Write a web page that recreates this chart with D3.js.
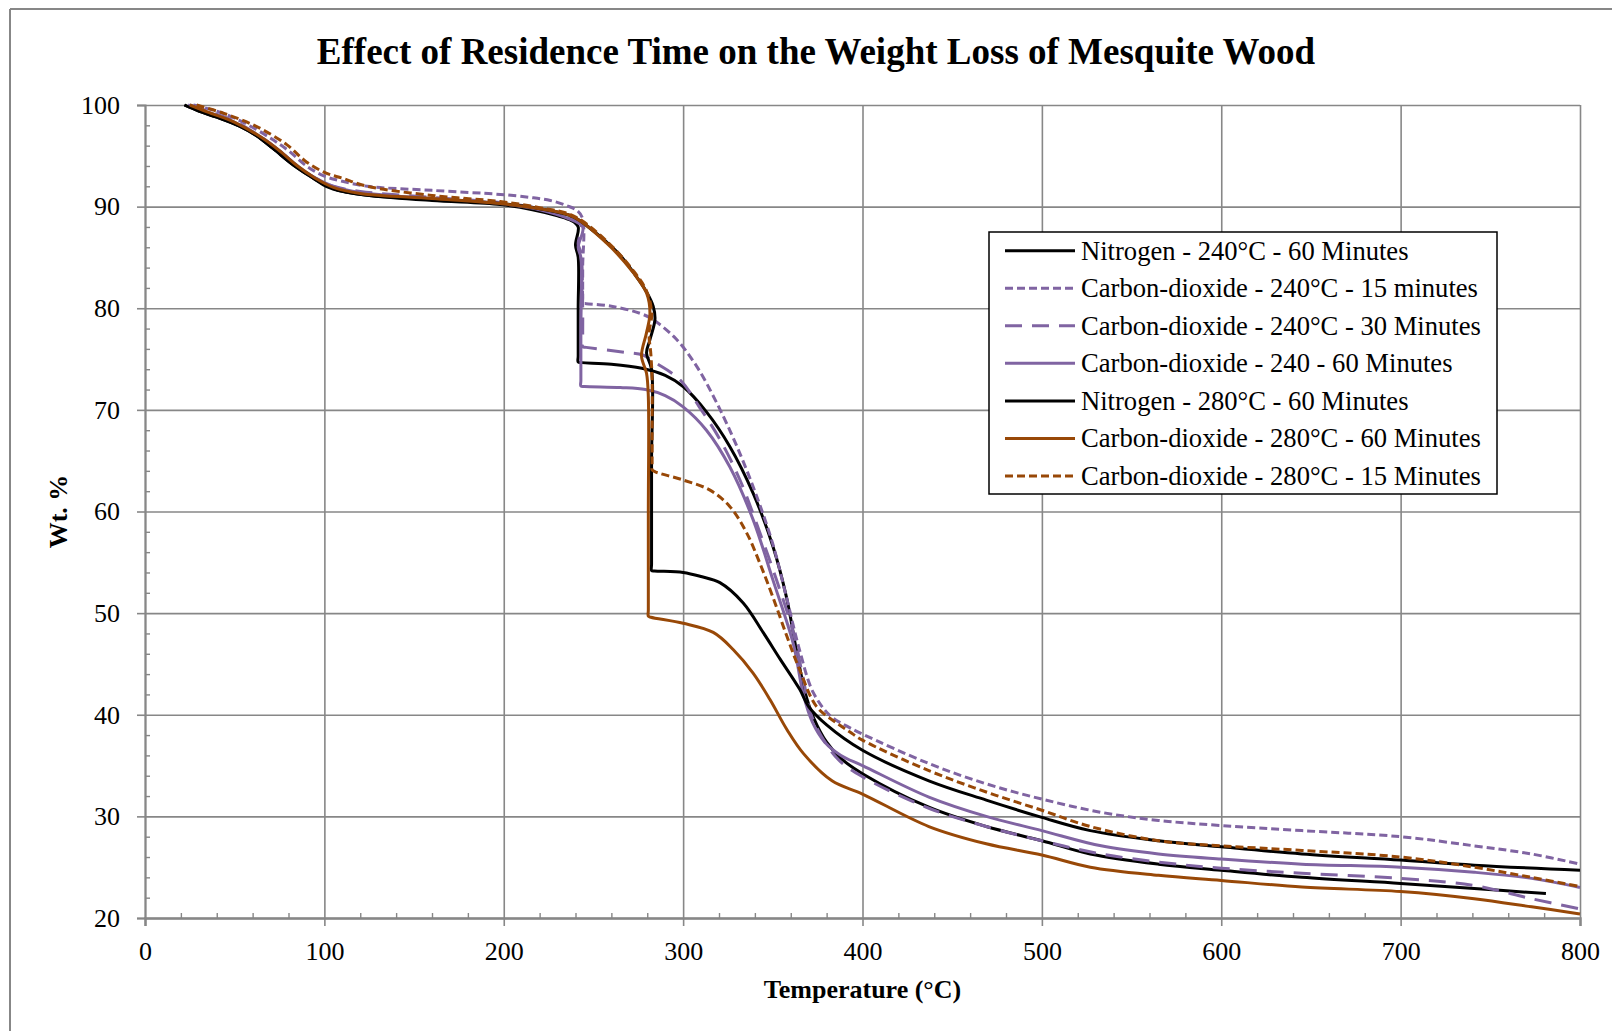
<!DOCTYPE html>
<html>
<head>
<meta charset="utf-8">
<script src="https://cdn.jsdelivr.net/npm/d3@7"></script>
<style>
  html, body { margin: 0; padding: 0; background: #fff; }
  svg { display: block; }
  text { font-family: "Liberation Serif", "Times New Roman", serif; fill: #000; }
</style>
</head>
<body>
<svg id="chart" width="1612" height="1031"></svg>
<script>
// Thermogravimetric curves: [temperature °C, weight %]
const n2_240_60 = [[22,100],[30,99.4],[40,98.8],[53,97.9],[62,97.0],[71.5,95.7],[82.7,94.1],[93.8,92.8],[101,92.1],[110,91.5],[125,91.1],[160,90.6],[198,90.2],[216,89.7],[230,89.1],[238,88.6],[241.5,88.0],[240,86.2],[241.5,85.0],[241.5,80.0],[241.5,75.3],[241.5,74.7],[243.5,74.65],[260,74.5],[277,74.1],[290,73.4],[300,72.3],[313,69.8],[326,66.4],[339,61.8],[350,56.6],[357.7,51.5],[363,46.5],[368,42.2],[373,39.6],[380,37.3],[388,35.7],[400,34.2],[437,30.9],[469,29.0],[500,27.6],[527,26.3],[565,25.3],[600,24.7],[645,24.0],[700,23.4],[741,22.9],[781,22.4]];

const co2_240_15 = [[27,100],[40,99.4],[50,98.7],[62,97.6],[72,96.5],[80,95.5],[90,94.0],[100,93.0],[110,92.5],[124,92.0],[160,91.6],[198,91.2],[215,90.9],[226,90.6],[235,90.1],[241,89.6],[244,88.8],[244,84.0],[244,81.0],[244,80.5],[246,80.45],[260,80.2],[276,79.5],[283,78.9],[296,77.0],[307.5,74.3],[318.7,70.7],[330,66.4],[341,61.5],[350,56.8],[357.7,51.5],[365,46.3],[372.5,42.2],[382,39.9],[391,38.9],[400,38.1],[437,35.2],[469,33.2],[500,31.7],[533,30.4],[565,29.6],[600,29.1],[645,28.6],[700,28.0],[741,27.1],[773,26.3],[800,25.3]];

const co2_240_30 = [[25,100],[35,99.4],[50,98.4],[65,96.8],[75,95.5],[85,94.0],[95,92.8],[105,92.0],[120,91.5],[160,90.9],[198,90.4],[220,89.8],[235,89.0],[243,88.3],[241.5,86.3],[243,85.5],[244,80.0],[244,76.7],[244,76.2],[246,76.15],[266,75.7],[277.6,75.4],[283,74.8],[298,73.0],[309,70.3],[320.5,67.1],[331.7,63.1],[342.8,57.9],[352,53.3],[361.4,48.1],[367,43.5],[371,40.2],[377,37.9],[387,35.5],[400,33.9],[437,30.8],[469,29.0],[500,27.6],[530,26.4],[565,25.5],[600,24.9],[645,24.4],[700,23.9],[741,23.2],[773,21.9],[800,20.9]];

const co2_240_60 = [[24,100],[35,99.3],[50,98.3],[65,96.8],[75,95.5],[85,94.0],[95,92.8],[105,92.0],[120,91.4],[160,90.8],[198,90.3],[220,89.7],[235,88.9],[244,88.0],[241.5,86.0],[243,85.0],[243,78.0],[243,72.9],[243,72.35],[245,72.3],[265,72.2],[279,72.0],[290,71.4],[300,70.3],[313,68.0],[326,64.4],[339,59.2],[350,53.3],[361.4,47.0],[367,42.0],[372,39.3],[379,37.3],[388,36.0],[400,35.0],[437,31.9],[469,30.0],[500,28.6],[533,27.1],[565,26.3],[600,25.8],[645,25.3],[700,25.0],[741,24.5],[773,23.9],[800,23.0]];

const n2_280_60 = [[22,100],[30,99.4],[40,98.8],[53,97.9],[62,97.0],[71.5,95.7],[82.7,94.1],[93.8,92.8],[101,92.0],[110,91.5],[125,91.1],[160,90.7],[198,90.3],[220,89.8],[238.8,89.0],[250,87.6],[257.4,86.5],[265,85.2],[272,83.6],[279.6,81.6],[283.3,80.2],[284.3,78.9],[281.5,76.9],[279.6,75.6],[282.4,74.0],[282.4,65.0],[282.4,54.8],[282.4,54.2],[284,54.15],[300,54.0],[310,53.6],[320.5,53.0],[333.5,51.0],[344.6,48.1],[354,45.5],[365,42.5],[370,40.8],[380,39.0],[400,36.5],[437,33.5],[469,31.6],[500,29.9],[527,28.6],[565,27.6],[600,27.0],[645,26.3],[700,25.7],[741,25.2],[800,24.7]];

const co2_280_60 = [[25,100],[35,99.3],[50,98.3],[65,96.8],[75,95.5],[85,94.0],[95,92.8],[105,91.9],[120,91.3],[160,90.8],[198,90.3],[220,89.8],[238.8,89.0],[257.4,86.4],[272.2,83.5],[279.6,81.5],[281.5,79.5],[279.6,77.6],[276.8,75.3],[279.6,73.6],[280.6,71.3],[280.6,60.0],[280.6,50.3],[280.6,49.7],[282,49.6],[300,49.0],[316.8,48.1],[328,46.4],[339,44.1],[348.4,41.5],[358,38.5],[367,36.2],[383,33.5],[400,32.2],[437,29.0],[469,27.3],[500,26.2],[527,25.0],[565,24.2],[600,23.7],[645,23.05],[700,22.6],[741,21.9],[773,21.1],[800,20.4]];

const co2_280_15 = [[28.8,100],[43.6,99.2],[62,97.9],[79,96.1],[90,94.4],[101,93.3],[110,92.8],[124,92.0],[160,91.1],[198,90.5],[220,89.9],[238.8,89.1],[257.4,86.6],[272.2,83.7],[279.6,81.7],[282.5,79.5],[281,77.5],[282,75.5],[282.7,73.0],[282.7,68.0],[282.7,64.6],[282.7,64.1],[284.5,63.9],[300,63.1],[315,62.1],[326,60.5],[335.4,57.9],[342.8,54.9],[350.2,51.5],[357.7,47.8],[365,44.4],[374.4,40.8],[385.5,39.2],[393,38.3],[400,37.5],[437,34.5],[469,32.4],[500,30.6],[527,29.0],[565,27.6],[600,27.1],[645,26.65],[700,26.0],[741,25.0],[773,24.0],[800,23.1]];

const seriesNames = [
  "Nitrogen - 240°C - 60 Minutes",
  "Carbon-dioxide - 240°C - 15 minutes",
  "Carbon-dioxide - 240°C - 30 Minutes",
  "Carbon-dioxide - 240 - 60 Minutes",
  "Nitrogen - 280°C - 60 Minutes",
  "Carbon-dioxide - 280°C - 60 Minutes",
  "Carbon-dioxide - 280°C - 15 Minutes"
];
const seriesData = [n2_240_60, co2_240_15, co2_240_30, co2_240_60, n2_280_60, co2_280_60, co2_280_15];

const xTicks = [0, 100, 200, 300, 400, 500, 600, 700, 800];
const yTicks = [20, 30, 40, 50, 60, 70, 80, 90, 100];

const titleText = "Effect of Residence Time on the Weight Loss of Mesquite Wood";
const xTitle = "Temperature (°C)";
const yTitle = "Wt. %";

// line styles per series
const PURPLE = "#8064a2", BROWN = "#984807";
const styles = [
  { color: "#000", dash: null },
  { color: PURPLE, dash: "8,4" },
  { color: PURPLE, dash: "17,10" },
  { color: PURPLE, dash: null },
  { color: "#000", dash: null },
  { color: BROWN, dash: null },
  { color: BROWN, dash: "8,4" }
];

const svg = d3.select("#chart");
const L = 145, R = 1580, T = 105, B = 918;
const x = d3.scaleLinear().domain([0, 800]).range([L, R]);
const y = d3.scaleLinear().domain([20, 100]).range([B, T]);
const GRID = "#878787";

// outer chart frame (left and top edges visible)
svg.append("line").attr("x1", 10).attr("x2", 10).attr("y1", 9).attr("y2", 1031)
  .attr("stroke", GRID).attr("stroke-width", 2);
svg.append("line").attr("x1", 10).attr("x2", 1612).attr("y1", 9).attr("y2", 9)
  .attr("stroke", GRID).attr("stroke-width", 2);

// gridlines
const gx = svg.append("g").attr("transform", `translate(0,${B})`)
  .call(d3.axisBottom(x).tickValues(xTicks).tickSize(-(B - T)).tickFormat(""));
gx.select(".domain").remove();
gx.selectAll("line").attr("stroke", GRID).attr("stroke-width", 1.6);
const gy = svg.append("g").attr("transform", `translate(${L},0)`)
  .call(d3.axisLeft(y).tickValues(yTicks).tickSize(-(R - L)).tickFormat(""));
gy.select(".domain").remove();
gy.selectAll("line").attr("stroke", GRID).attr("stroke-width", 1.6);

// minor ticks (inside)
const xMinor = d3.range(0, 801, 20).filter(v => v % 100 !== 0);
const yMinor = d3.range(20, 101, 2).filter(v => v % 10 !== 0);
const mx = svg.append("g").attr("transform", `translate(0,${B})`)
  .call(d3.axisBottom(x).tickValues(xMinor).tickSize(-5).tickFormat(""));
mx.select(".domain").remove();
mx.selectAll("line").attr("stroke", GRID).attr("stroke-width", 1.4);
const my = svg.append("g").attr("transform", `translate(${L},0)`)
  .call(d3.axisLeft(y).tickValues(yMinor).tickSize(-5).tickFormat(""));
my.select(".domain").remove();
my.selectAll("line").attr("stroke", GRID).attr("stroke-width", 1.4);

// series
const line = d3.line()
  .x(d => x(d[0])).y(d => y(d[1]))
  .curve(d3.curveCatmullRom.alpha(0.5));
const plot = svg.append("g");
seriesData.forEach((data, i) => {
  plot.append("path")
    .datum(data)
    .attr("d", line)
    .attr("fill", "none")
    .attr("stroke", styles[i].color)
    .attr("stroke-width", 3)
    .attr("stroke-linejoin", "round")
    .attr("stroke-dasharray", styles[i].dash);
});

// major axes with outside ticks and labels
const ax = svg.append("g").attr("transform", `translate(0,${B})`)
  .call(d3.axisBottom(x).tickValues(xTicks).tickSize(8).tickPadding(16));
ax.select(".domain").attr("stroke", GRID).attr("stroke-width", 2.4);
ax.selectAll("line").attr("stroke", GRID).attr("stroke-width", 1.6);
ax.selectAll("text").attr("font-size", 26).attr("font-family", "Liberation Serif").attr("fill", "#000");

const ay = svg.append("g").attr("transform", `translate(${L},0)`)
  .call(d3.axisLeft(y).tickValues(yTicks).tickSize(8).tickPadding(17));
ay.select(".domain").attr("stroke", GRID).attr("stroke-width", 2);
ay.selectAll("line").attr("stroke", GRID).attr("stroke-width", 1.6);
ay.selectAll("text").attr("font-size", 26).attr("font-family", "Liberation Serif").attr("fill", "#000");

// titles
svg.append("text").attr("x", 816).attr("y", 64).attr("text-anchor", "middle")
  .attr("font-size", 37).attr("font-weight", "bold").text(titleText);
svg.append("text").attr("x", (L + R) / 2).attr("y", 998).attr("text-anchor", "middle")
  .attr("font-size", 26).attr("font-weight", "bold").text(xTitle);
svg.append("text").attr("transform", `translate(67,${(T + B) / 2}) rotate(-90)`)
  .attr("text-anchor", "middle").attr("font-size", 26).attr("font-weight", "bold").text(yTitle);

// legend
const lg = svg.append("g");
lg.append("rect").attr("x", 989).attr("y", 232).attr("width", 508).attr("height", 262)
  .attr("fill", "#fff").attr("stroke", "#000").attr("stroke-width", 1.5);
seriesNames.forEach((name, i) => {
  const cy = 250.7 + i * 37.55;
  lg.append("line").attr("x1", 1005).attr("x2", 1075).attr("y1", cy).attr("y2", cy)
    .attr("stroke", styles[i].color).attr("stroke-width", 3)
    .attr("stroke-dasharray", styles[i].dash);
  lg.append("text").attr("x", 1081).attr("y", cy + 9).attr("font-size", 26.6).text(name);
});
</script>
</body>
</html>
